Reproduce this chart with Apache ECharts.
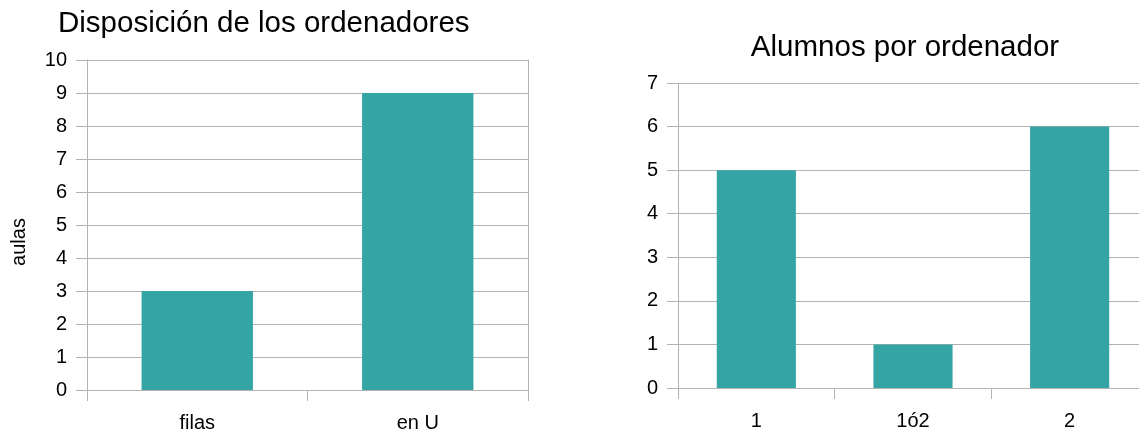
<!DOCTYPE html>
<html>
<head>
<meta charset="utf-8">
<script src="https://cdn.jsdelivr.net/npm/echarts@6/dist/echarts.min.js"></script>
<style>
html,body{margin:0;padding:0;background:#fff;}
#c{width:1139px;height:432px;}
</style>
</head>
<body>
<div id="c"></div>
<script>
const titleA = 'Disposición de los ordenadores';
const catsA = ['filas', 'en U'];
const valsA = [3, 9];
const yNameA = 'aulas';

const titleB = 'Alumnos por ordenador';
const catsB = ['1', '1ó2', '2'];
const valsB = [5, 1, 6];

const FONT = 'Liberation Sans';
const GRIDC = '#b3b3b3';
const BARC = '#34a4a4';

const chart = echarts.init(document.getElementById('c'), null, {renderer: 'canvas'});

function xAxis(idx, cats) {
  return {
    type: 'category', gridIndex: idx, data: cats,
    boundaryGap: true,
    axisLine: {show: true, lineStyle: {color: GRIDC, width: 1}},
    axisTick: {show: true, length: 11, lineStyle: {color: GRIDC}},
    axisLabel: {color: '#000', fontFamily: FONT, fontSize: 20, margin: 23},
    splitLine: {show: false}
  };
}
function yAxis(idx, max, extra) {
  return Object.assign({
    type: 'value', gridIndex: idx, min: 0, max: max, interval: 1,
    axisLine: {show: true, lineStyle: {color: GRIDC, width: 1}},
    axisTick: {show: true, length: 11, lineStyle: {color: GRIDC}},
    axisLabel: {color: '#000', fontFamily: FONT, fontSize: 20, margin: 20},
    splitLine: {show: true, lineStyle: {color: GRIDC, width: 1}}
  }, extra || {});
}

chart.setOption({
  animation: false,
  title: [
    {text: titleA, left: 53, top: 4,
     textStyle: {fontFamily: FONT, fontSize: 29.5, fontWeight: 'normal', color: '#000'}},
    {text: titleB, left: 900, top: 28, textAlign: 'center',
     textStyle: {fontFamily: FONT, fontSize: 29.5, fontWeight: 'normal', color: '#000'}}
  ],
  grid: [
    {left: 87, top: 60, width: 441, height: 330, outerBoundsMode: 'none', containLabel: false},
    {left: 678, top: 83, width: 470, height: 305, outerBoundsMode: 'none', containLabel: false}
  ],
  xAxis: [xAxis(0, catsA), xAxis(1, catsB)],
  yAxis: [
    yAxis(0, 10, {name: yNameA, nameLocation: 'middle', nameGap: 58, nameRotate: 90,
      nameTextStyle: {color: '#000', fontFamily: FONT, fontSize: 20, padding: [0, 34, 0, 0]}}),
    yAxis(1, 7),
    {type: 'value', gridIndex: 0, position: 'right', min: 0, max: 10,
     axisLine: {show: true, lineStyle: {color: GRIDC, width: 1}},
     axisTick: {show: false}, axisLabel: {show: false}, splitLine: {show: false}}
  ],
  series: [
    {type: 'bar', xAxisIndex: 0, yAxisIndex: 0, data: valsA, barWidth: '50.5%',
     itemStyle: {color: BARC}},
    {type: 'bar', xAxisIndex: 1, yAxisIndex: 1, data: valsB, barWidth: '50.5%',
     itemStyle: {color: BARC}}
  ]
});
</script>
</body>
</html>
